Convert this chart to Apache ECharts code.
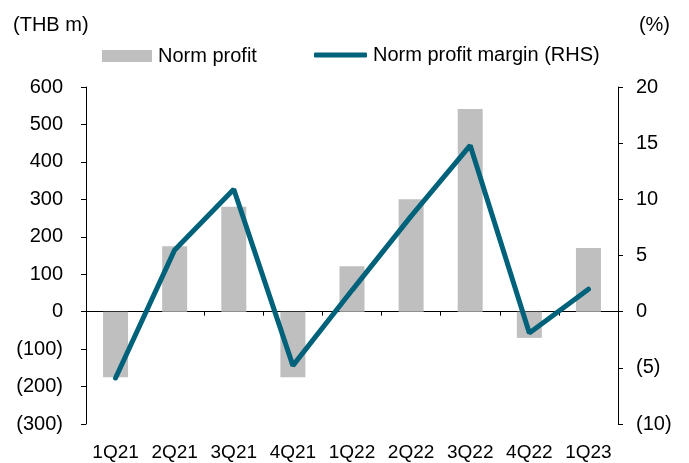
<!DOCTYPE html>
<html>
<head>
<meta charset="utf-8">
<script src="https://cdn.jsdelivr.net/npm/echarts@6/dist/echarts.min.js"></script>
<style>
  html, body { margin: 0; padding: 0; background: #fff; }
  #chart { width: 689px; height: 463px; }
</style>
</head>
<body>
<div id="chart"></div>
<script>
// data
var quarters = ['1Q21', '2Q21', '3Q21', '4Q21', '1Q22', '2Q22', '3Q22', '4Q22', '1Q23'];
var normProfit = [-175, 175, 280, -175, 121, 300, 541, -70, 170];
var profitMargin = [-5.9, 5.5, 10.9, -4.8, 1.9, 8.5, 14.8, -1.9, 2.0];

var FONT = '"Liberation Sans", Arial, sans-serif';
var BAR_COLOR = '#BFBFBF';
var LINE_COLOR = '#00627A';

function paren(v) {
    return v < 0 ? '(' + (-v) + ')' : String(v);
}

var myChart = echarts.init(document.getElementById('chart'));
myChart.setOption({
    animation: false,
    textStyle: { fontFamily: FONT, color: '#000' },
    graphic: [
        { type: 'text', left: 13, top: 15, style: { text: '(THB m)', font: '20px ' + FONT, fill: '#000' } },
        { type: 'text', right: 19, top: 15, style: { text: '(%)', font: '20px ' + FONT, fill: '#000' } }
    ],
    // two legends so each icon gets its own size
    legend: [
        {
            left: 102,
            top: 46,
            padding: 0,
            itemWidth: 50,
            itemHeight: 12,
            itemGap: 6,
            textStyle: { fontSize: 20, fontFamily: FONT, color: '#000', padding: [0, 0, 0, 1] },
            data: [{ name: 'Norm profit', icon: 'rect' }]
        },
        {
            left: 314,
            top: 45,
            padding: 0,
            itemWidth: 53,
            itemHeight: 5,
            textStyle: { fontSize: 20, fontFamily: FONT, color: '#000', padding: [0, 0, 0, 1] },
            data: [{ name: 'Norm profit margin (RHS)', icon: 'roundRect' }]
        }
    ],
    grid: { left: 86, right: 71, top: 87, bottom: 39 },
    xAxis: [
        {
            type: 'category',
            data: quarters,
            axisLine: { onZero: true, lineStyle: { color: '#000', width: 1 } },
            axisTick: { show: true, length: 4, lineStyle: { color: '#000' } },
            axisLabel: { show: false }
        },
        {
            // label-only axis sitting at the bottom of the grid
            type: 'category',
            data: quarters,
            position: 'bottom',
            axisLine: { show: false },
            axisTick: { show: false },
            axisLabel: { interval: 0, hideOverlap: false, margin: 19, fontSize: 19, color: '#000', fontFamily: FONT }
        }
    ],
    yAxis: [
        {
            type: 'value',
            min: -300,
            max: 600,
            interval: 100,
            axisLine: { show: true, lineStyle: { color: '#000' } },
            axisTick: { show: true, length: 5, lineStyle: { color: '#000' } },
            splitLine: { show: false },
            axisLabel: { margin: 23, fontSize: 20, color: '#000', fontFamily: FONT, formatter: paren }
        },
        {
            type: 'value',
            min: -10,
            max: 20,
            interval: 5,
            position: 'right',
            axisLine: { show: true, lineStyle: { color: '#000' } },
            axisTick: { show: true, length: 5, lineStyle: { color: '#000' } },
            splitLine: { show: false },
            axisLabel: { margin: 18, fontSize: 20, color: '#000', fontFamily: FONT, formatter: paren }
        }
    ],
    series: [
        {
            name: 'Norm profit',
            type: 'bar',
            xAxisIndex: 0,
            yAxisIndex: 0,
            barWidth: 25,
            itemStyle: { color: BAR_COLOR },
            data: normProfit
        },
        {
            name: 'Norm profit margin (RHS)',
            type: 'line',
            xAxisIndex: 0,
            yAxisIndex: 1,
            symbol: 'none',
            lineStyle: { color: LINE_COLOR, width: 5, cap: 'round' },
            itemStyle: { color: LINE_COLOR },
            data: profitMargin
        }
    ]
});
</script>
</body>
</html>
